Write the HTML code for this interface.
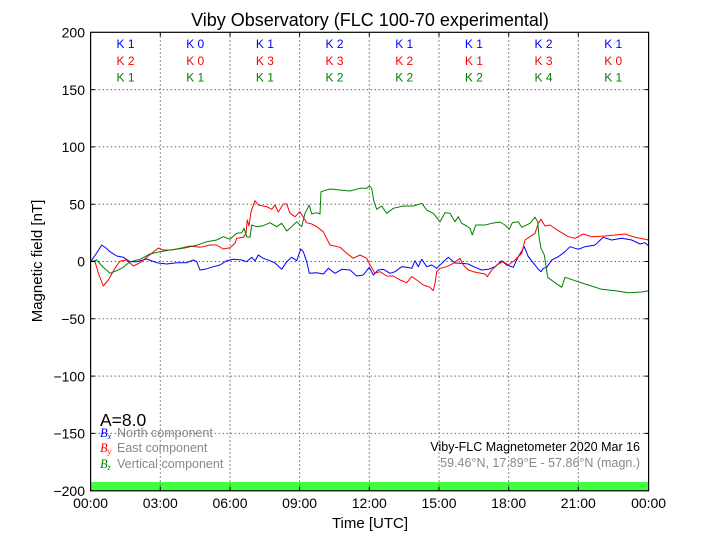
<!DOCTYPE html>
<html><head><meta charset="utf-8"><style>
html,body{margin:0;padding:0;background:#fff;}
svg{display:block;font-family:"Liberation Sans",sans-serif;}
</style></head><body>
<svg width="720" height="540" viewBox="0 0 720 540" xmlns="http://www.w3.org/2000/svg">
<rect width="720" height="540" fill="#fff"/>
<text x="370" y="26" font-size="18" text-anchor="middle">Viby Observatory (FLC 100-70 experimental)</text>
<!-- green bar -->
<rect x="90.6" y="482" width="558" height="8.8" fill="#40ff40"/>
<!-- grid -->
<g stroke="#666" stroke-width="1" stroke-dasharray="1.5,2.5" fill="none">
<line x1="160.3" y1="32.3" x2="160.3" y2="490.8"/>
<line x1="230" y1="32.3" x2="230" y2="490.8"/>
<line x1="299.6" y1="32.3" x2="299.6" y2="490.8"/>
<line x1="369.3" y1="32.3" x2="369.3" y2="490.8"/>
<line x1="439" y1="32.3" x2="439" y2="490.8"/>
<line x1="508.7" y1="32.3" x2="508.7" y2="490.8"/>
<line x1="578.3" y1="32.3" x2="578.3" y2="490.8"/>
<line x1="90.6" y1="89.6" x2="648.6" y2="89.6"/>
<line x1="90.6" y1="146.9" x2="648.6" y2="146.9"/>
<line x1="90.6" y1="204.2" x2="648.6" y2="204.2"/>
<line x1="90.6" y1="261.5" x2="648.6" y2="261.5"/>
<line x1="90.6" y1="318.8" x2="648.6" y2="318.8"/>
<line x1="90.6" y1="376.1" x2="648.6" y2="376.1"/>
<line x1="90.6" y1="433.4" x2="648.6" y2="433.4"/>
</g>
<!-- K indices -->
<g font-size="12" text-anchor="middle">
<g fill="#0000ff">
<text x="125.5" y="48">K 1</text><text x="195.2" y="48">K 0</text><text x="264.9" y="48">K 1</text><text x="334.5" y="48">K 2</text><text x="404.2" y="48">K 1</text><text x="473.9" y="48">K 1</text><text x="543.5" y="48">K 2</text><text x="613.2" y="48">K 1</text>
</g>
<g fill="#ff0000">
<text x="125.5" y="65">K 2</text><text x="195.2" y="65">K 0</text><text x="264.9" y="65">K 3</text><text x="334.5" y="65">K 3</text><text x="404.2" y="65">K 2</text><text x="473.9" y="65">K 1</text><text x="543.5" y="65">K 3</text><text x="613.2" y="65">K 0</text>
</g>
<g fill="#008000">
<text x="125.5" y="81.5">K 1</text><text x="195.2" y="81.5">K 1</text><text x="264.9" y="81.5">K 1</text><text x="334.5" y="81.5">K 2</text><text x="404.2" y="81.5">K 2</text><text x="473.9" y="81.5">K 2</text><text x="543.5" y="81.5">K 4</text><text x="613.2" y="81.5">K 1</text>
</g>
</g>
<!-- data -->
<g fill="none" stroke-width="1" stroke-linejoin="round">
<polyline stroke="#0000ff" points="90.6,261.7 96,254 101.7,245 106,248 110,251.7 116.7,256 123.3,257.3 130,261.7 136.7,261.7 146.7,259 156.7,262.7 166.7,264 176.7,262.7 186.7,262.7 193.3,260 196.7,261.7 200,270 205,269.3 213.3,266.7 220,265 226.7,260.7 233.3,259.3 241.7,260 246.7,261.7 251.7,257.3 255,261 258.3,255 263.3,258.3 270,260.7 275,263 281.7,269.3 286.7,261.7 291.7,257.3 296.7,260.7 300.7,249 303.3,251.7 306.7,261.7 309.3,273.3 316.7,272.7 323.3,274 328.3,268.3 335,273.3 341.7,269.3 350,270 356.7,276 363.3,275 369.3,267.3 373.3,275 378.3,270 383.3,269.3 390,273.3 395,271.7 401.7,266.7 406.7,267.3 411.7,268.3 415,260.7 418.3,266.7 421.7,259.3 426.7,266.7 431.7,265 436.7,268.3 441.7,263.3 448.3,257.3 455,263 461.7,263.3 468.3,264 475,267.3 481.7,270 488.3,269.3 495,266.7 501.7,260.7 506.7,265 513.3,267.3 518.3,256.7 524.3,246.7 528.3,256.7 535,265 538.3,269.3 541,271.7 543.3,268.3 546.7,267.3 551.7,260 558.3,256.7 565,251.7 570,246.7 578.3,249.3 585,246.7 595,245 603.3,237.3 611.7,240 621.7,238.3 631.7,240 640,244 645,242.7 648.6,246"/>
<polyline stroke="#ff0000" points="90.6,261.5 95,261.7 99,275 103.3,286 108.3,280 115,268.3 120,261 126.7,260 133.3,266 140,262.7 148.3,256 158.3,248 163.3,250 171.7,250 180,248.3 190,246 200,247.3 210,245 216.7,245 223.3,249 230,247.7 235,243.3 236.7,238.3 243.3,237.3 246,233.3 247.3,220 249,226 251,211.7 255,200.7 258.3,205 266.7,206.7 271.7,209.3 275,205 278.3,212 283.3,204 286.7,204 290,213.3 295,216.7 300,211.7 306.7,222.7 311.7,224 316.7,226.7 323.3,231.7 330,245 340,247.3 346.7,253.3 353.3,258.3 360,255 366.7,258.3 370,265 375,273.3 380,271.7 386.7,276 393.3,276 400,280 406.7,282.7 411.7,276.7 416.7,280 423.3,285 430,287.3 433.3,290.7 435,283.3 436.7,271.7 440,268.3 446.7,266.7 453.3,263.3 460,258.3 463.3,265 468.3,270 473.3,271.7 478.3,272.7 485,274 487.3,276.7 491.7,270 498.3,264 503.3,261.7 508.3,265 515,260 521.7,253.3 525,240 530,236.7 535,233.3 538.3,223.3 541,219.3 545,226 550,225 558.3,230.7 568.3,236.7 575,238.3 583.3,234 591.7,236.7 605,236 615,235 625,234 635,237.3 648.6,240"/>
<polyline stroke="#008000" points="90.6,261.7 96.7,260 103.3,267.3 110,273.3 116.7,270.7 123.3,267.3 130,261.7 140,259.3 150,254 160,251.7 170,250 183.3,248.3 196.7,245.3 206.7,241.7 216.7,240 223.3,236.7 230,239.3 236.7,233.3 241.7,232.7 244,228.3 246.7,236.7 250,237.3 251.7,225 256.7,226.7 263.3,225.7 270,222.7 276.7,226.7 281.7,223.3 286.7,231 291.7,226.7 296.7,221.7 301.7,226.7 305,213.3 309.3,205 311.7,214 316.7,212.7 320,214 321,191.7 330,189 340,190 350,191 360,188.3 366.7,188.3 369.3,186 371.7,188.3 374,201.7 376.7,209.3 381.7,206 386.7,213.3 393.3,208.3 403.3,206 413.3,206 421.7,203.3 426.7,210 433.3,213.3 440,221.7 445,212.7 450,213.3 455,221.7 458.3,216.7 461.7,223.3 466.7,226 470,228.3 472.3,235 475.7,225 485,225 491.7,223.3 500,222 505,225 509.3,229.3 512.3,222.7 518.3,221.7 521.7,227.3 530,223.3 535,217.3 537.7,221.7 539,236.7 541,248.3 544.3,255 547.7,277.3 555,282.7 561.7,287.3 565,277.3 575,280.7 588.3,285 601.7,289.3 615,290.7 628.3,292.7 641.7,292 648.6,290.7"/>
</g>
<!-- axes box -->
<rect x="90.6" y="32.3" width="558" height="458.5" fill="none" stroke="#000" stroke-width="1.2"/>
<!-- ticks -->
<g stroke="#000" stroke-width="1">
<path d="M90.6,89.6h4M90.6,146.9h4M90.6,204.2h4M90.6,261.5h4M90.6,318.8h4M90.6,376.1h4M90.6,433.4h4"/>
<path d="M648.6,89.6h-4M648.6,146.9h-4M648.6,204.2h-4M648.6,261.5h-4M648.6,318.8h-4M648.6,376.1h-4M648.6,433.4h-4"/>
<path d="M160.3,490.8v-4M230,490.8v-4M299.6,490.8v-4M369.3,490.8v-4M439,490.8v-4M508.7,490.8v-4M578.3,490.8v-4"/>
<path d="M160.3,32.3v4M230,32.3v4M299.6,32.3v4M369.3,32.3v4M439,32.3v4M508.7,32.3v4M578.3,32.3v4"/>
</g>
<!-- y tick labels -->
<g font-size="14" text-anchor="end">
<text x="85" y="37.5">200</text>
<text x="85" y="94.8">150</text>
<text x="85" y="152.1">100</text>
<text x="85" y="209.4">50</text>
<text x="85" y="266.7">0</text>
<text x="85" y="324">−50</text>
<text x="85" y="381.3">−100</text>
<text x="85" y="438.6">−150</text>
<text x="85" y="496">−200</text>
</g>
<!-- x tick labels -->
<g font-size="14" text-anchor="middle">
<text x="90.6" y="508">00:00</text>
<text x="160.3" y="508">03:00</text>
<text x="230" y="508">06:00</text>
<text x="299.6" y="508">09:00</text>
<text x="369.3" y="508">12:00</text>
<text x="439" y="508">15:00</text>
<text x="508.7" y="508">18:00</text>
<text x="578.3" y="508">21:00</text>
<text x="648.6" y="508">00:00</text>
</g>
<text x="370" y="528" font-size="15" text-anchor="middle">Time [UTC]</text>
<text transform="translate(42,261) rotate(-90)" font-size="15" text-anchor="middle">Magnetic field [nT]</text>
<!-- annotations -->
<text x="100" y="426" font-size="17.5">A=8.0</text>
<g font-size="12.5">
<text x="100" y="437" fill="#0000ff" font-family="Liberation Serif,serif" font-style="italic">B<tspan font-size="8" dy="2">x</tspan></text>
<text x="117" y="437" fill="#888">North component</text>
<text x="100" y="452" fill="#ff0000" font-family="Liberation Serif,serif" font-style="italic">B<tspan font-size="8" dy="2">y</tspan></text>
<text x="117" y="452" fill="#888">East component</text>
<text x="100" y="468" fill="#008000" font-family="Liberation Serif,serif" font-style="italic">B<tspan font-size="8" dy="2">z</tspan></text>
<text x="117" y="468" fill="#888">Vertical component</text>
<text x="640" y="451" text-anchor="end" fill="#000">Viby-FLC Magnetometer 2020 Mar 16</text>
<text x="640" y="467" text-anchor="end" fill="#888">59.46°N, 17.89°E - 57.86°N (magn.)</text>
</g>
</svg>
</body></html>
